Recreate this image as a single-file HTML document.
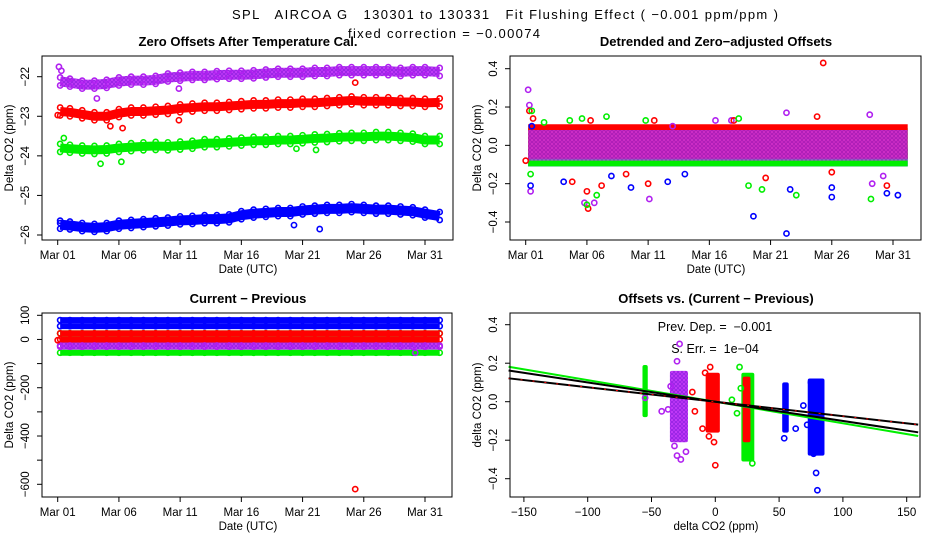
<!DOCTYPE html>
<html><head><meta charset="utf-8"><style>
html,body{margin:0;padding:0;background:#fff;}
svg{display:block;font-family:"Liberation Sans",sans-serif;}
</style></head><body>
<svg id="c" width="936" height="540" viewBox="0 0 936 540" xmlns="http://www.w3.org/2000/svg">
<defs>
<pattern id="purpleHatch" width="4" height="4" patternUnits="userSpaceOnUse">
<rect width="4" height="4" fill="#d040ff"/>
<circle cx="2" cy="2" r="1.4" fill="none" stroke="#9020e0" stroke-width="1"/>
</pattern>
</defs>
<text x="232" y="19" font-size="13" textLength="546" lengthAdjust="spacing" style="white-space:pre">SPL   AIRCOA G   130301 to 130331   Fit Flushing Effect ( −0.001 ppm/ppm )</text>
<text x="348" y="38" font-size="13" textLength="192" lengthAdjust="spacing">fixed correction = −0.00074</text>
<g id="p1"></g>
<g id="p2"></g>
<g id="p3"></g>
<g id="p4"></g>
</svg>
<script>
// ---------- data ----------
const days = [1.2,2,3,4,5,6,7,8,9,10,11,12,13,14,15,16,17,18,19,20,21,22,23,24,25,26,27,28,29,30,31,32.2];
const tickDays = [1,6,11,16,21,26,31];
const tickDayLabels = ["Mar 01","Mar 06","Mar 11","Mar 16","Mar 21","Mar 26","Mar 31"];
const seriesNames = ["blue","green","red","purple"];
const seriesColors = ["#0000ff","#00ee00","#ff0000","#b020f0"];
// panel 1 daily levels
const p1Purple = [-22.12,-22.15,-22.2,-22.2,-22.18,-22.12,-22.1,-22.1,-22.08,-22.02,-22.0,-21.98,-21.98,-21.96,-21.95,-21.95,-21.94,-21.92,-21.9,-21.9,-21.9,-21.88,-21.88,-21.86,-21.86,-21.86,-21.86,-21.86,-21.88,-21.86,-21.86,-21.88];
const p1Red = [-22.88,-22.9,-22.95,-23.0,-23.0,-22.92,-22.88,-22.88,-22.86,-22.84,-22.8,-22.78,-22.76,-22.76,-22.74,-22.72,-22.7,-22.7,-22.68,-22.68,-22.66,-22.66,-22.64,-22.62,-22.6,-22.62,-22.62,-22.62,-22.64,-22.64,-22.66,-22.65];
const p1Green = [-23.8,-23.82,-23.84,-23.85,-23.84,-23.8,-23.78,-23.76,-23.75,-23.76,-23.74,-23.72,-23.68,-23.68,-23.66,-23.64,-23.62,-23.62,-23.6,-23.6,-23.58,-23.56,-23.55,-23.53,-23.52,-23.52,-23.5,-23.5,-23.52,-23.54,-23.6,-23.6];
const p1Blue = [-25.74,-25.76,-25.8,-25.82,-25.8,-25.74,-25.72,-25.7,-25.68,-25.66,-25.63,-25.62,-25.6,-25.6,-25.58,-25.5,-25.46,-25.44,-25.42,-25.42,-25.38,-25.36,-25.34,-25.34,-25.32,-25.34,-25.36,-25.36,-25.38,-25.4,-25.46,-25.52];
const p1Outliers = [[3,1.1,-21.75],[3,1.3,-21.85],[3,4.2,-22.55],[3,10.9,-22.3],[2,25.3,-22.15],[2,5.3,-23.25],[2,6.3,-23.3],[2,10.9,-23.1],[2,1,-22.97],[1,1.5,-23.55],[1,4.5,-24.2],[1,6.2,-24.15],[1,20.5,-23.82],[1,22.1,-23.85],[0,20.3,-25.75],[0,22.4,-25.85],[0,1.2,-25.7]];
const p1YTicks = [-26,-25,-24,-23,-22];
// panel 2
const p2Centers = [-0.06,-0.01,0.02,0.0];
const p2Spread = [0.1,0.2,0.18,0.16];
const p2Outliers = [[3,1.2,0.29],[3,1.3,0.21],[3,1.4,-0.24],[3,6.6,-0.3],[3,11.1,-0.28],[3,22.3,0.17],[3,29.1,0.16],[3,29.3,-0.2],[3,30.2,-0.16],[3,5.8,-0.3],[3,16.5,0.13],[3,17.8,0.13],[3,13,0.1],
 [2,1,-0.08],[2,1.3,0.18],[2,1.6,0.14],[2,25.3,0.43],[2,6,-0.24],[2,6.1,-0.33],[2,7.2,-0.21],[2,11,-0.2],[2,20.6,-0.17],[2,24.8,0.15],[2,30.5,-0.21],[2,26,-0.14],[2,4.8,-0.19],[2,9.2,-0.15],[2,6.3,0.13],[2,11.5,0.13],[2,18,0.13],
 [1,1.5,0.18],[1,1.4,-0.15],[1,5.6,0.14],[1,6.8,-0.26],[1,6,-0.31],[1,20.3,-0.23],[1,19.2,-0.21],[1,23.1,-0.26],[1,29.2,-0.28],[1,7.6,0.15],[1,18.4,0.14],[1,2.5,0.12],[1,4.6,0.13],[1,10.8,0.13],
 [0,1.5,0.1],[0,1.4,-0.21],[0,19.6,-0.37],[0,22.3,-0.46],[0,26,-0.22],[0,26,-0.27],[0,30.5,-0.25],[0,31.4,-0.26],[0,9.6,-0.22],[0,4.1,-0.19],[0,12.6,-0.19],[0,22.6,-0.23],[0,8,-0.16],[0,14,-0.15]];
const p2YTicks = [-0.4,-0.2,0.0,0.2,0.4];
const p2YLabels = ["−0.4","−0.2","0.0","0.2","0.4"];
// panel 3
const p3Levels = [[80,55],[25,-55],[0,25],[-25,-30]];
const p3Outliers = [[2,25.3,-620],[2,1,-3],[3,30.2,-55]];
const p3YTicks = [-600,-500,-400,-300,-200,-100,0,100];
const p3YLabels = ["−600","","−400","","−200","","0","100"];
// panel 4
const p4ClusterSeries = [1,3,2,1,2,0,0];
const p4ClusterXLo = [-55.5,-34,-6,22,23,54,74];
const p4ClusterXHi = [-54.5,-23,2,29,26,56,84];
const p4ClusterYLo = [-0.07,-0.2,-0.15,-0.3,-0.2,-0.15,-0.27];
const p4ClusterYHi = [0.18,0.15,0.14,0.14,0.12,0.09,0.11];
const p4Outliers = [[3,-28,0.3],[3,-30,0.21],[3,-32,-0.23],[3,-30,-0.28],[3,-27,-0.3],[3,-23,-0.26],[3,-42,-0.05],[3,-37,-0.04],[3,-55,0.02],[3,-35,0.08],
 [2,-4,0.18],[2,-8,0.15],[2,-18,0.05],[2,-16,-0.05],[2,0,-0.33],[2,-1,-0.21],[2,-10,-0.14],[2,-5,-0.18],
 [1,19,0.18],[1,13,0.01],[1,20,0.07],[1,17,-0.06],[1,29,-0.32],
 [0,63,-0.14],[0,79,-0.37],[0,80,-0.46],[0,75,0.1],[0,69,-0.02],[0,72,-0.12],[0,54,-0.19],[0,77,-0.27]];
const fitSlopes = [-0.00112,-0.001,-0.00075];
const fitIntercepts = [0.0,0.0,0.0];
const fitColors = ["#00ee00","#000000","#000000"];
const p4XTicks = [-150,-100,-50,0,50,100,150];
const p4XLabels = ["−150","−100","−50","0","50","100","150"];
const p4YTicks = [-0.4,-0.2,0.0,0.2,0.4];

// ---------- helpers ----------
const NS = "http://www.w3.org/2000/svg";
function mk(parent, tag, attrs){ const e=document.createElementNS(NS,tag); for(const k in attrs) e.setAttribute(k,attrs[k]); parent.appendChild(e); return e; }
function lin(d0,d1,r0,r1){ return v => r0 + (v-d0)*(r1-r0)/(d1-d0); }
function circ(g, x, y, col, r){
  const c = mk(g,'circle',{cx:x,cy:y,r:r||2.6,fill:'none',stroke:col,'stroke-width':1.6});
  
  
  return c;
}
function fillFor(si){ return si===3 ? 'url(#purpleHatch)' : seriesColors[si]; }
function frame(g, x0, y0, x1, y1, title, tx, ty){
  const r = mk(g,'rect',{x:x0,y:y0,width:x1-x0,height:y1-y0,fill:'none',stroke:'#000','stroke-width':1});
  
  
  const t = mk(g,'text',{x:tx,y:ty,'font-size':13,'font-weight':'bold','text-anchor':'middle'});
  t.textContent = title;
  
  
}
function xAxis(g, sx, ticks, labels, yBase, title, titleX){
  const ax = mk(g,'g',{});
  
  
  mk(ax,'line',{x1:sx(ticks[0]),x2:sx(ticks[ticks.length-1]),y1:yBase,y2:yBase,stroke:'#000'});
  ticks.forEach((t,i)=>{
    mk(ax,'line',{x1:sx(t),x2:sx(t),y1:yBase,y2:yBase+5,stroke:'#000'});
    const tl = mk(ax,'text',{x:sx(t),y:yBase+19,'font-size':11.5,'text-anchor':'middle'});
    tl.textContent = labels[i];
    
    
  });
  const tt = mk(ax,'text',{x:titleX,y:yBase+33,'font-size':11.5,'text-anchor':'middle'});
  tt.textContent = title;
  
  
}
function yAxis(g, sy, ticks, labels, xBase, title, titleY){
  const ax = mk(g,'g',{});
  
  
  mk(ax,'line',{x1:xBase,x2:xBase,y1:sy(ticks[0]),y2:sy(ticks[ticks.length-1]),stroke:'#000'});
  ticks.forEach((t,i)=>{
    mk(ax,'line',{x1:xBase-5,x2:xBase,y1:sy(t),y2:sy(t),stroke:'#000'});
    if(labels[i]!==""){
      const tl = mk(ax,'text',{x:xBase-13,y:sy(t),'font-size':11.5,'text-anchor':'middle',transform:`rotate(-90 ${xBase-13} ${sy(t)})`});
      tl.textContent = labels[i];
      
      
    }
  });
  const tt = mk(ax,'text',{x:xBase-29,y:titleY,'font-size':11.5,'text-anchor':'middle',transform:`rotate(-90 ${xBase-29} ${titleY})`});
  tt.textContent = title;
  
  
}
function band(g, pts, col, w, op, cap){
  const p = mk(g,'polyline',{points:pts.map(q=>q.join(',')).join(' '),fill:'none',stroke:col,'stroke-width':w,'stroke-linejoin':'round','stroke-linecap':cap||'round',opacity:op||1});
  
  
}

// ---------- panel 1 ----------
(function(){
  const g = document.getElementById('p1');
  const sx = lin(1,31,57.7,425), sy = lin(-22,-26,76.7,235);
  frame(g,42,56,453,240,'Zero Offsets After Temperature Cal.',248,46);
  const series = [p1Blue,p1Green,p1Red,p1Purple];
  const widths = [10,9,9,10];
  series.forEach((arr,si)=>{
    const sg = mk(g,'g',{});
    
    
    const pts = arr.map((v,i)=>[sx(days[i]),sy(v)]);
    band(sg,pts,fillFor(si),widths[si],1,'butt');
    pts.forEach(p=>{ circ(sg,p[0],p[1]-4,seriesColors[si]); circ(sg,p[0],p[1]+4,seriesColors[si]); });
  });
  p1Outliers.forEach(o=>circ(g,sx(o[1]),sy(o[2]),seriesColors[o[0]]));
  xAxis(g,sx,tickDays,tickDayLabels,240,'Date (UTC)',248);
  yAxis(g,sy,p1YTicks,p1YTicks.map(v=>v<0?'−'+Math.abs(v):''+v),42,'Delta CO2 (ppm)',148);
})();

// ---------- panel 2 ----------
(function(){
  const g = document.getElementById('p2');
  const sx = lin(1,31,525.7,893), sy = lin(0.4,-0.4,68.7,222);
  frame(g,510,56,921,240,'Detrended and Zero−adjusted Offsets',716,46);
  p2Centers.forEach((c,si)=>{
    const sg = mk(g,'g',{});
    
    
    const pts = [[sx(days[0]),sy(c)],[sx(days[days.length-1]),sy(c)]];
    const w = Math.abs(sy(0)-sy(p2Spread[si]));
    band(sg,pts,fillFor(si),w, si===3?0.8:1,'butt');
  });
  p2Outliers.forEach(o=>circ(g,sx(o[1]),sy(o[2]),seriesColors[o[0]]));
  xAxis(g,sx,tickDays,tickDayLabels,240,'Date (UTC)',716);
  yAxis(g,sy,p2YTicks,p2YLabels,510,'Delta CO2 (ppm)',148);
})();

// ---------- panel 3 ----------
(function(){
  const g = document.getElementById('p3');
  const sx = lin(1,31,57.7,425), sy = lin(100,-600,315.3,484.3);
  frame(g,42,313,452,497,'Current − Previous',248,303);
  p3Levels.forEach((lv,si)=>{
    const sg = mk(g,'g',{});
    
    
    lv.forEach(v=>{
      band(sg,[[sx(days[0]),sy(v)],[sx(days[days.length-1]),sy(v)]],fillFor(si),6,1,'butt');
      days.forEach(d=>circ(sg,sx(d),sy(v),seriesColors[si]));
    });
  });
  p3Outliers.forEach(o=>circ(g,sx(o[1]),sy(o[2]),seriesColors[o[0]]));
  xAxis(g,sx,tickDays,tickDayLabels,497,'Date (UTC)',248);
  yAxis(g,sy,p3YTicks,p3YLabels,42,'Delta CO2 (ppm)',405);
})();

// ---------- panel 4 ----------
(function(){
  const g = document.getElementById('p4');
  const sx = lin(0,150,715.3,906.7), sy = lin(0.4,-0.4,324.7,478.7);
  frame(g,510,313,920,497,'Offsets vs. (Current − Previous)',716,303);
  const t1 = mk(g,'text',{x:715,y:331,'font-size':12.5,'text-anchor':'middle',style:'white-space:pre'}); t1.textContent='Prev. Dep. =  −0.001';
   
  const t2 = mk(g,'text',{x:715,y:353,'font-size':12.5,'text-anchor':'middle',style:'white-space:pre'}); t2.textContent='S. Err. =  1e−04';
   
  p4ClusterSeries.forEach((si,i)=>{
    const x0=sx(p4ClusterXLo[i]), x1=sx(p4ClusterXHi[i]), y0=sy(p4ClusterYHi[i]), y1=sy(p4ClusterYLo[i]);
    const r = mk(g,'rect',{x:x0-2,y:y0-2,width:x1-x0+4,height:y1-y0+4,rx:2,fill:fillFor(si)});
    
    
  });
  p4Outliers.forEach(o=>circ(g,sx(o[1]),sy(o[2]),seriesColors[o[0]]));
  const xa=-162, xb=159;
  fitSlopes.forEach((s,i)=>{
    const l = mk(g,'line',{x1:sx(xa),y1:sy(fitIntercepts[i]+s*xa),x2:sx(xb),y2:sy(fitIntercepts[i]+s*xb),stroke:fitColors[i],'stroke-width':2});
    
    
    if(i===2){
      const d = mk(g,'line',{x1:sx(xa),y1:sy(fitIntercepts[i]+s*xa),x2:sx(xb),y2:sy(fitIntercepts[i]+s*xb),stroke:'#ff0000','stroke-width':1,'stroke-dasharray':'2 10'});
      
      
    }
  });
  xAxis(g,sx,p4XTicks,p4XLabels,497,'delta CO2 (ppm)',716);
  yAxis(g,sy,p4YTicks,p2YLabels,510,'delta CO2 (ppm)',405);
})();
</script>
</body></html>
